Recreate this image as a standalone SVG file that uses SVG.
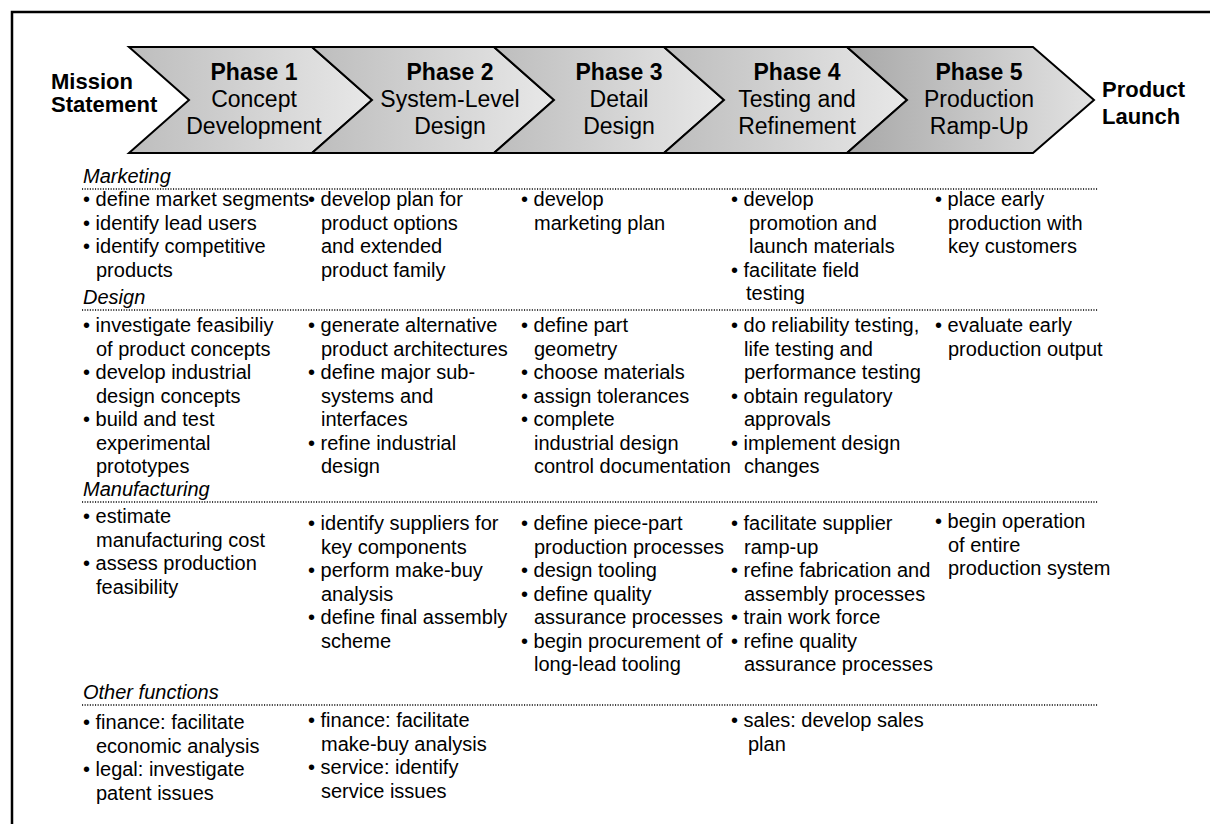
<svg xmlns="http://www.w3.org/2000/svg" width="1210" height="824" viewBox="0 0 1210 824">
<style>
  text { font-family: "Liberation Sans", Arial, sans-serif; fill: #000; }
  .hb { font-size: 22px; font-weight: bold; }
  .ph { font-size: 23px; text-anchor: middle; }
  .phb { font-weight: bold; }
  .lbl { font-size: 20px; font-style: italic; }
  .item { font-size: 20px; }
  .chev { stroke: #000; stroke-width: 2; stroke-linejoin: miter; }
  .dots { stroke: #000; stroke-width: 1.3; stroke-dasharray: 1.1 1.5; fill: none; }
  .frame { stroke: #000; stroke-width: 2.5; fill: none; }
</style>
<defs>
  <linearGradient id="g" x1="0" y1="0" x2="1" y2="0">
    <stop offset="0" stop-color="#bdbdbd"/>
    <stop offset="1" stop-color="#e8e8e8"/>
  </linearGradient>
  <linearGradient id="g5" x1="0" y1="0" x2="1" y2="0">
    <stop offset="0" stop-color="#a8a8a8"/>
    <stop offset="1" stop-color="#e2e2e2"/>
  </linearGradient>
</defs>
<rect width="1210" height="824" fill="#fff"/>
<path class="frame" d="M12,824 V12 H1210"/>

<g id="mission">
  <text class="hb" x="51" y="89">Mission</text>
  <text class="hb" x="51" y="112">Statement</text>
</g>
<g id="phase1">
  <polygon class="chev" fill="url(#g)" points="129,47 312,47 372,100 312,153 129,153 189,100"/>
  <text class="ph" x="254" y="80"><tspan class="phb">Phase 1</tspan><tspan x="254" y="107">Concept</tspan><tspan x="254" y="134">Development</tspan></text>
</g>
<g id="phase2">
  <polygon class="chev" fill="url(#g)" points="312,47 494,47 554,100 494,153 312,153 372,100"/>
  <text class="ph" x="450" y="80"><tspan class="phb">Phase 2</tspan><tspan x="450" y="107">System-Level</tspan><tspan x="450" y="134">Design</tspan></text>
</g>
<g id="phase3">
  <polygon class="chev" fill="url(#g)" points="494,47 664,47 724,100 664,153 494,153 554,100"/>
  <text class="ph" x="619" y="80"><tspan class="phb">Phase 3</tspan><tspan x="619" y="107">Detail</tspan><tspan x="619" y="134">Design</tspan></text>
</g>
<g id="phase4">
  <polygon class="chev" fill="url(#g)" points="664,47 847,47 907,100 847,153 664,153 724,100"/>
  <text class="ph" x="797" y="80"><tspan class="phb">Phase 4</tspan><tspan x="797" y="107">Testing and</tspan><tspan x="797" y="134">Refinement</tspan></text>
</g>
<g id="phase5">
  <polygon class="chev" fill="url(#g5)" points="847,47 1033,47 1094,100 1033,153 847,153 907,100"/>
  <text class="ph" x="979" y="80"><tspan class="phb">Phase 5</tspan><tspan x="979" y="107">Production</tspan><tspan x="979" y="134">Ramp-Up</tspan></text>
</g>
<g id="launch">
  <text class="hb" x="1102" y="97">Product</text>
  <text class="hb" x="1102" y="124">Launch</text>
</g>

<g id="connectors">
  <line class="dots" x1="82" y1="189" x2="1098" y2="189"/>
  <line class="dots" x1="82" y1="310" x2="1098" y2="310"/>
  <line class="dots" x1="82" y1="502" x2="1098" y2="502"/>
  <line class="dots" x1="82" y1="705" x2="1098" y2="705"/>
</g>

<g id="marketing">
  <text class="lbl" x="83" y="183">Marketing</text>
  <text class="item">
    <tspan x="83" y="206">• define market segments</tspan>
    <tspan x="83" y="229.5">• identify lead users</tspan>
    <tspan x="83" y="253">• identify competitive</tspan>
    <tspan x="96" y="276.5">products</tspan>
  </text>
  <text class="item">
    <tspan x="308" y="206">• develop plan for</tspan>
    <tspan x="321" y="229.5">product options</tspan>
    <tspan x="321" y="253">and extended</tspan>
    <tspan x="321" y="276.5">product family</tspan>
  </text>
  <text class="item">
    <tspan x="521" y="206">• develop</tspan>
    <tspan x="534" y="229.5">marketing plan</tspan>
  </text>
  <text class="item">
    <tspan x="731" y="206">• develop</tspan>
    <tspan x="749" y="229.5">promotion and</tspan>
    <tspan x="749" y="253">launch materials</tspan>
    <tspan x="731" y="276.5">• facilitate field</tspan>
    <tspan x="746" y="300">testing</tspan>
  </text>
  <text class="item">
    <tspan x="935" y="206">• place early</tspan>
    <tspan x="948" y="229.5">production with</tspan>
    <tspan x="948" y="253">key customers</tspan>
  </text>
</g>

<g id="design">
  <text class="lbl" x="83" y="304">Design</text>
  <text class="item">
    <tspan x="83" y="332">• investigate feasibiliy</tspan>
    <tspan x="96" y="355.5">of product concepts</tspan>
    <tspan x="83" y="379">• develop industrial</tspan>
    <tspan x="96" y="402.5">design concepts</tspan>
    <tspan x="83" y="426">• build and test</tspan>
    <tspan x="96" y="449.5">experimental</tspan>
    <tspan x="96" y="473">prototypes</tspan>
  </text>
  <text class="item">
    <tspan x="308" y="332">• generate alternative</tspan>
    <tspan x="321" y="355.5">product architectures</tspan>
    <tspan x="308" y="379">• define major sub-</tspan>
    <tspan x="321" y="402.5">systems and</tspan>
    <tspan x="321" y="426">interfaces</tspan>
    <tspan x="308" y="449.5">• refine industrial</tspan>
    <tspan x="321" y="473">design</tspan>
  </text>
  <text class="item">
    <tspan x="521" y="332">• define part</tspan>
    <tspan x="534" y="355.5">geometry</tspan>
    <tspan x="521" y="379">• choose materials</tspan>
    <tspan x="521" y="402.5">• assign tolerances</tspan>
    <tspan x="521" y="426">• complete</tspan>
    <tspan x="534" y="449.5">industrial design</tspan>
    <tspan x="534" y="473">control documentation</tspan>
  </text>
  <text class="item">
    <tspan x="731" y="332">• do reliability testing,</tspan>
    <tspan x="744" y="355.5">life testing and</tspan>
    <tspan x="744" y="379">performance testing</tspan>
    <tspan x="731" y="402.5">• obtain regulatory</tspan>
    <tspan x="744" y="426">approvals</tspan>
    <tspan x="731" y="449.5">• implement design</tspan>
    <tspan x="744" y="473">changes</tspan>
  </text>
  <text class="item">
    <tspan x="935" y="332">• evaluate early</tspan>
    <tspan x="948" y="355.5">production output</tspan>
  </text>
</g>

<g id="manufacturing">
  <text class="lbl" x="83" y="496">Manufacturing</text>
  <text class="item">
    <tspan x="83" y="523">• estimate</tspan>
    <tspan x="96" y="546.5">manufacturing cost</tspan>
    <tspan x="83" y="570">• assess production</tspan>
    <tspan x="96" y="593.5">feasibility</tspan>
  </text>
  <text class="item">
    <tspan x="308" y="530">• identify suppliers for</tspan>
    <tspan x="321" y="553.5">key components</tspan>
    <tspan x="308" y="577">• perform make-buy</tspan>
    <tspan x="321" y="600.5">analysis</tspan>
    <tspan x="308" y="624">• define final assembly</tspan>
    <tspan x="321" y="647.5">scheme</tspan>
  </text>
  <text class="item">
    <tspan x="521" y="530">• define piece-part</tspan>
    <tspan x="534" y="553.5">production processes</tspan>
    <tspan x="521" y="577">• design tooling</tspan>
    <tspan x="521" y="600.5">• define quality</tspan>
    <tspan x="534" y="624">assurance processes</tspan>
    <tspan x="521" y="647.5">• begin procurement of</tspan>
    <tspan x="534" y="671">long-lead tooling</tspan>
  </text>
  <text class="item">
    <tspan x="731" y="530">• facilitate supplier</tspan>
    <tspan x="744" y="553.5">ramp-up</tspan>
    <tspan x="731" y="577">• refine fabrication and</tspan>
    <tspan x="744" y="600.5">assembly processes</tspan>
    <tspan x="731" y="624">• train work force</tspan>
    <tspan x="731" y="647.5">• refine quality</tspan>
    <tspan x="744" y="671">assurance processes</tspan>
  </text>
  <text class="item">
    <tspan x="935" y="528">• begin operation</tspan>
    <tspan x="948" y="551.5">of entire</tspan>
    <tspan x="948" y="575">production system</tspan>
  </text>
</g>

<g id="other">
  <text class="lbl" x="83" y="699">Other functions</text>
  <text class="item">
    <tspan x="83" y="729">• finance: facilitate</tspan>
    <tspan x="96" y="752.5">economic analysis</tspan>
    <tspan x="83" y="776">• legal: investigate</tspan>
    <tspan x="96" y="799.5">patent issues</tspan>
  </text>
  <text class="item">
    <tspan x="308" y="727">• finance: facilitate</tspan>
    <tspan x="321" y="750.5">make-buy analysis</tspan>
    <tspan x="308" y="774">• service: identify</tspan>
    <tspan x="321" y="797.5">service issues</tspan>
  </text>
  <text class="item">
    <tspan x="731" y="727">• sales: develop sales</tspan>
    <tspan x="748" y="750.5">plan</tspan>
  </text>
</g>
</svg>
